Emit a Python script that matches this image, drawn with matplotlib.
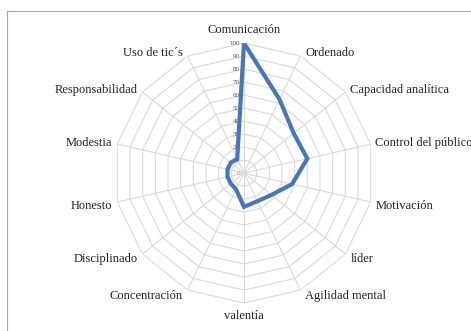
import numpy as np
import matplotlib
matplotlib.use("Agg")
import matplotlib.pyplot as plt
from matplotlib.patches import Rectangle

categories = ["Comunicación", "Ordenado", "Capacidad analítica", "Control del público",
              "Motivación", "líder", "Agilidad mental", "valentía", "Concentración",
              "Disciplinado", "Honesto", "Modestia", "Responsabilidad", "Uso de tic´s"]
values = [100, 63, 49, 50, 38, 27, 24, 26, 14, 13, 13, 13, 13, 12]
rticks = [0, 10, 20, 30, 40, 50, 60, 70, 80, 90, 100]

plt.rcParams['font.family'] = ['Liberation Serif', 'DejaVu Serif']

fig = plt.figure(figsize=(4.71, 3.31), dpi=100)
ax = fig.add_axes([0.242, 0.0846, 0.552, 0.785], projection='polar')
ax.set_theta_zero_location('N')
ax.set_theta_direction(-1)
ax.set_ylim(0, 100)

n = len(categories)
theta = np.linspace(0, 2 * np.pi, n, endpoint=False)

# polygon grid instead of circles
ax.grid(False)
ax.spines['polar'].set_visible(False)
ax.set_xticks([])
ax.set_yticks([])
tc = np.append(theta, theta[0])
for r in rticks[1:]:
    ax.plot(tc, [r] * len(tc), color='#DADADA', lw=0.8, zorder=1)
for t in theta:
    ax.plot([t, t], [0, 100], color='#DADADA', lw=0.8, zorder=1)

# radial tick labels
for r in rticks:
    ax.annotate(str(r), xy=(0, r), xytext=(-3, 0), textcoords='offset points',
                ha='right', va='center', fontsize=5,
                color='#C9A400' if r == 0 else '#555555', zorder=3)

# category labels
for t, lab in zip(theta, categories):
    s, c = np.sin(t), np.cos(t)
    if abs(s) < 0.05:
        ha = 'center'
        va = 'bottom' if c > 0 else 'top'
        off = (0, 5 * np.sign(c))
    else:
        ha = 'left' if s > 0 else 'right'
        va = 'center'
        off = (3.5 * np.sign(s), 2.5 * c - (2 if c < 0 else 0))
    ax.annotate(lab, xy=(t, 100), xytext=off, textcoords='offset points',
                ha=ha, va=va, fontsize=9, color='#222222')

vc = values + values[:1]
ax.plot(tc, vc, color='#4677BE', lw=3, solid_joinstyle='miter', zorder=4)

fig.patches.append(Rectangle((0.015, -0.1), 1.1, 1.067, transform=fig.transFigure,
                             fill=False, edgecolor='#A6A6A6', lw=0.8))

fig.savefig("out.png", dpi=100)
